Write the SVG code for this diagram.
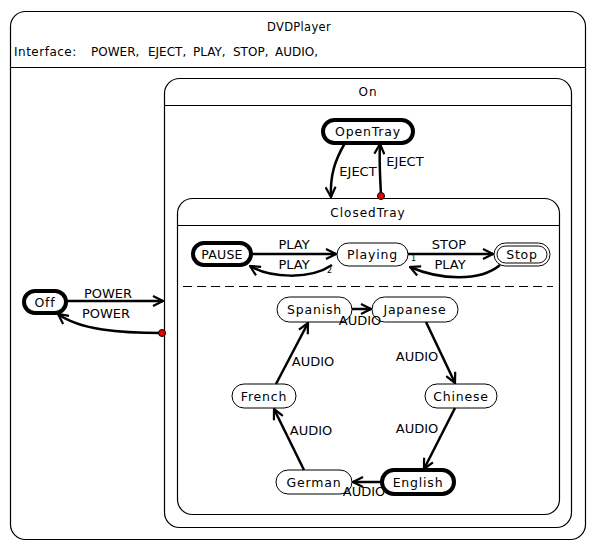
<svg xmlns="http://www.w3.org/2000/svg" width="596" height="551" viewBox="0 0 596 551">
<defs>
<style>
text{font-family:"DejaVu Sans","Liberation Sans",sans-serif;font-size:12px;fill:#000}
.c{text-anchor:middle}
.n{font-size:12.5px;letter-spacing:0.8px}
.t{letter-spacing:1px}
.lbl{font-size:13px}
.box{fill:#fff;stroke:#000;stroke-width:1.2}
.st{fill:#fff;stroke:#000;stroke-width:1}
.init{fill:#fff;stroke:#000;stroke-width:4}
.e{fill:none;stroke:#000;stroke-width:2.5}
.sm{font-size:8px}
.dot{fill:#e00;stroke:#000;stroke-width:1}
</style>
<marker id="ah" viewBox="0 0 12 12" refX="11" refY="6" markerWidth="12" markerHeight="12" markerUnits="userSpaceOnUse" orient="auto">
<path d="M1,1 L11,6 L1,11" fill="none" stroke="#000" stroke-width="2.2"/>
</marker>
</defs>
<rect width="596" height="551" fill="#fff"/>

<g id="DVDPlayer">
<rect class="box" x="10.5" y="11.5" width="575" height="528" rx="15"/>
<line x1="10.5" y1="67.5" x2="585.5" y2="67.5" stroke="#000" stroke-width="1.2"/>
<text class="c" x="299" y="31" style="font-size:11.5px;letter-spacing:0.3px">DVDPlayer</text>
<text x="14" y="56" style="letter-spacing:0.5px">Interface:</text>
<text x="91" y="56">POWER,</text>
<text x="148" y="56">EJECT,</text>
<text x="193" y="56">PLAY,</text>
<text x="233" y="56">STOP,</text>
<text x="275" y="56">AUDIO,</text>
</g>

<g id="On">
<rect class="box" x="164.5" y="78.5" width="407" height="449" rx="15"/>
<line x1="164.5" y1="105.5" x2="571.5" y2="105.5" stroke="#000" stroke-width="1.2"/>
<text class="c t" x="368" y="96">On</text>
</g>

<g id="ClosedTray">
<rect class="box" x="177.5" y="198.5" width="382" height="316" rx="15"/>
<line x1="177.5" y1="225.5" x2="559.5" y2="225.5" stroke="#000" stroke-width="1.2"/>
<text class="c t" x="368" y="217">ClosedTray</text>
<line x1="183" y1="286.5" x2="553" y2="286.5" stroke="#000" stroke-width="1.2" stroke-dasharray="9,5"/>
</g>

<g id="Off"><rect class="init" x="24" y="291" width="42" height="22" rx="11"/><text class="c n" x="45" y="306.5">Off</text></g>
<g id="OpenTray"><rect class="init" x="323" y="120" width="90" height="23" rx="11.5"/><text class="c n" x="368" y="136">OpenTray</text></g>
<g id="PAUSE"><rect class="init" x="193" y="243" width="58" height="22" rx="11"/><text class="c n" x="222" y="258.5" style="letter-spacing:0.2px">PAUSE</text></g>
<g id="Playing"><rect class="st" x="337" y="243" width="71" height="23" rx="11.5"/><text class="c n" x="372.5" y="259">Playing</text></g>
<g id="Stop"><rect class="st" x="494" y="243" width="56" height="23" rx="11.5"/><rect class="st" x="497" y="246" width="50" height="17" rx="8.5"/><text class="c n" x="522" y="259">Stop</text></g>
<g id="Spanish"><rect class="st" x="277" y="297" width="75" height="25" rx="12.5"/><text class="c n" x="314.5" y="314">Spanish</text></g>
<g id="Japanese"><rect class="st" x="372" y="297" width="86" height="25" rx="12.5"/><text class="c n" x="415" y="314">Japanese</text></g>
<g id="Chinese"><rect class="st" x="425" y="384" width="72" height="24" rx="12"/><text class="c n" x="461" y="400.5">Chinese</text></g>
<g id="English"><rect class="init" x="382" y="470" width="72" height="24" rx="12"/><text class="c n" x="418" y="486.5">English</text></g>
<g id="German"><rect class="st" x="276" y="470" width="76" height="24" rx="12"/><text class="c n" x="314" y="486.5">German</text></g>
<g id="French"><rect class="st" x="232" y="384" width="64" height="24" rx="12"/><text class="c n" x="264" y="400.5">French</text></g>

<g id="connectors">
<path class="e" d="M66,301 L163,301" marker-end="url(#ah)"/>
<text class="c lbl" x="108" y="298">POWER</text>
<path class="e" d="M162,333 C120,333 80,330 58,314" marker-end="url(#ah)"/>
<text class="c lbl" x="106" y="318">POWER</text>
<circle class="dot" cx="162" cy="333" r="3.5"/>

<path class="e" d="M345,143 C335,160 330,175 331,197" marker-end="url(#ah)"/>
<text class="c lbl" x="358" y="176">EJECT</text>
<path class="e" d="M381,195 C380,175 379,160 380,144" marker-end="url(#ah)"/>
<text class="c lbl" x="405" y="166">EJECT</text>
<circle class="dot" cx="381" cy="196" r="3.5"/>

<path class="e" d="M251,254 L336,254" marker-end="url(#ah)"/>
<text class="c lbl" x="294" y="249">PLAY</text>
<path class="e" d="M332,265 C310,280 270,278 250,266" marker-end="url(#ah)"/>
<text class="c lbl" x="294" y="269">PLAY</text>
<text class="sm" x="327" y="273">2</text>
<path class="e" d="M408,254 L493,254" marker-end="url(#ah)"/>
<text class="c lbl" x="449" y="249">STOP</text>
<text class="sm" x="411" y="261">1</text>
<path class="e" d="M500,265 C480,282 440,280 410,267" marker-end="url(#ah)"/>
<text class="c lbl" x="450" y="269">PLAY</text>

<path class="e" d="M352,309 L371,309" marker-end="url(#ah)"/>
<text class="c lbl" x="360" y="325">AUDIO</text>
<path class="e" d="M426,322 L455,383" marker-end="url(#ah)"/>
<text class="c lbl" x="417" y="361">AUDIO</text>
<path class="e" d="M455,408 L424,469" marker-end="url(#ah)"/>
<text class="c lbl" x="417" y="433">AUDIO</text>
<path class="e" d="M382,482 L353,482" marker-end="url(#ah)"/>
<text class="c lbl" x="364" y="496">AUDIO</text>
<path class="e" d="M304,470 L274,409" marker-end="url(#ah)"/>
<text class="c lbl" x="311" y="435">AUDIO</text>
<path class="e" d="M276,384 L308,323" marker-end="url(#ah)"/>
<text class="c lbl" x="313" y="366">AUDIO</text>
</g>
</svg>
